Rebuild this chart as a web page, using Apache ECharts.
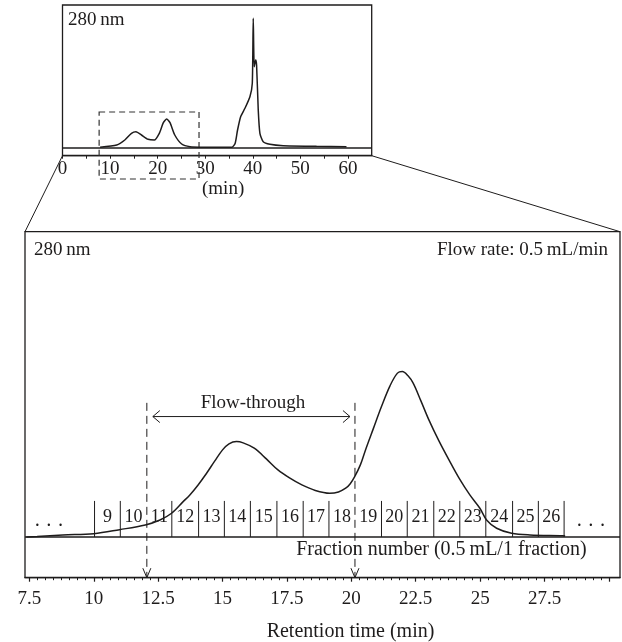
<!DOCTYPE html>
<html><head><meta charset="utf-8">
<script src="https://cdn.jsdelivr.net/npm/echarts@6/dist/echarts.min.js"></script>
<style>html,body{margin:0;padding:0;background:#fff}#c{width:622px;height:642px}</style>
</head><body><div id="c"></div>
<script>
// ---- Data ----
// Expanded chromatogram, retention time (min) vs absorbance at 280 nm (arbitrary units)
const mainTime   = [7.38, 7.8, 8.8, 10.0, 11.0, 12.0, 12.57, 13.02, 13.47, 13.73, 14.05, 14.38, 14.7, 15.0, 15.25, 15.54, 15.8, 16.23, 16.7, 17.15, 17.6, 18.08, 18.6, 19.16, 19.5, 19.78, 19.95, 20.13, 20.35, 20.55, 20.85, 21.17, 21.5, 21.79, 21.98, 22.2, 22.4, 22.7, 23.01, 23.4, 23.79, 24.2, 24.6, 24.99, 25.25, 25.64, 26.22, 26.93, 28.21, 28.3];
const mainSignal = [0, 0.5, 2, 3.3, 7.3, 12, 17, 23.7, 35.3, 42, 52, 63.7, 76, 87, 93, 95.3, 94, 88.7, 78, 67, 59, 52, 46.5, 43.7, 45, 48.7, 53, 60.3, 72, 87, 108, 130.3, 151, 163.7, 165.3, 161, 153.7, 136, 117, 96, 77, 58, 42, 28.7, 17, 8.7, 3.7, 2, 1.3, 1.0];
// Full chromatogram (inset)
const insetTime   = [7.9, 11.4, 13.1, 14.5, 15.45, 16.6, 18.0, 19.3, 20.35, 21.2, 21.9, 22.6, 23.6, 25.05, 26.8, 30, 35.6, 36.3, 36.8, 37.45, 38.35, 39.4, 39.9, 40.1, 40.3, 40.6, 40.8, 41.15, 41.5, 42.2, 43.6, 46.4, 53.4, 59.7];
const insetSignal = [0.5, 2.7, 7.7, 14.4, 16, 12.7, 8.4, 7.7, 14.4, 25, 28.7, 25, 12.7, 3.7, 1, 0.5, 0.4, 4.4, 17.7, 31, 39.4, 51, 64.4, 129.4, 81, 87.7, 82.7, 37.7, 14.4, 6, 3.4, 2, 1.4, 1];
// Fractions (0.5 mL each) and their boundaries on the time axis
const fractionNumbers = [9, 10, 11, 12, 13, 14, 15, 16, 17, 18, 19, 20, 21, 22, 23, 24, 25, 26];
const fractionBounds  = [10.03, 11.03, 12.06, 13.03, 14.07, 15.07, 16.08, 17.11, 18.13, 19.13, 20.14, 21.17, 22.17, 23.2, 24.21, 25.22, 26.26, 27.26, 28.26];
const flowThrough = [12.06, 20.14];
// Tick labels
const mainTickLabels  = [7.5, 10, 12.5, 15, 17.5, 20, 22.5, 25, 27.5];
const mainMajorTicks  = [7.5, 10, 12.5, 15, 17.5, 20, 22.5, 25, 27.5, 30];
const insetTickLabels = [0, 10, 20, 30, 40, 50, 60];
const zoomWindow = [7.7, 28.7];

// ---- Layout / style ----
const INK = '#1e1c1c';
const FONT = '"Liberation Serif", "Times New Roman", serif';
const MAIN = {l: 25, r: 620, t: 231.7, b: 577.7};
const INSET = {l: 62.5, r: 371.7, t: 5, b: 155.7};
const MAIN_YMIN = -40.7, MAIN_YMAX = 305;
const INSET_YMIN = -8, INSET_YMAX = 142.7;
const FRAC_TOP = 36, FRAC_LABEL_Y = 20, DASH_TOP = 134, ARROW_Y = 120.3;

const minorTicks = [];
for (let k = 0; k <= 72; k++) minorTicks.push(+(7.5 + k * 0.3125).toFixed(4));

const chart = echarts.init(document.getElementById('c'), null, {renderer: 'canvas'});

function txt(x, y, text, size, align, vAlign) {
  return {type: 'text', x: x, y: y, silent: true,
    style: {text: text, fill: INK, font: size + 'px ' + FONT, align: align || 'left', verticalAlign: vAlign || 'middle'}};
}

const option = {
  backgroundColor: '#fff',
  animation: false,
  grid: [
    {left: MAIN.l, top: MAIN.t, width: MAIN.r - MAIN.l, height: MAIN.b - MAIN.t, show: true,
     borderColor: INK, borderWidth: 1.3, backgroundColor: 'transparent', containLabel: false, outerBoundsMode: 'none'},
    {left: INSET.l, top: INSET.t, width: INSET.r - INSET.l, height: INSET.b - INSET.t, show: true,
     borderColor: INK, borderWidth: 1.3, backgroundColor: 'transparent', containLabel: false, outerBoundsMode: 'none'}
  ],
  xAxis: [
    {type: 'value', gridIndex: 0, min: 7.33, max: 30.43, position: 'bottom',
     axisLine: {show: true, onZero: false, lineStyle: {color: INK, width: 1.3}},
     axisTick: {show: true, inside: false, length: 4, customValues: mainMajorTicks, lineStyle: {color: INK, width: 1.2}},
     axisLabel: {show: true, customValues: mainTickLabels, margin: 12, color: INK, fontFamily: FONT, fontSize: 19,
                 formatter: v => String(v)},
     splitLine: {show: false},
     name: 'Retention time (min)', nameLocation: 'middle', nameGap: 44,
     nameTextStyle: {color: INK, fontFamily: FONT, fontSize: 20, padding: [0, 0, 0, 56]}},
    {type: 'value', gridIndex: 0, min: 7.33, max: 30.43, position: 'bottom', offset: 0,
     axisLine: {show: false, onZero: false},
     axisTick: {show: true, inside: false, length: 2.5, customValues: minorTicks, lineStyle: {color: INK, width: 1}},
     axisLabel: {show: false}, splitLine: {show: false}},
    {type: 'value', gridIndex: 1, min: 0, max: 65, interval: 5, position: 'bottom',
     axisLine: {show: true, onZero: false, lineStyle: {color: INK, width: 1.3}},
     axisTick: {show: true, inside: false, length: 3, lineStyle: {color: INK, width: 1}},
     axisLabel: {show: true, margin: 4, color: INK, fontFamily: FONT, fontSize: 19,
                 showMinLabel: true, showMaxLabel: false,
                 formatter: v => (insetTickLabels.indexOf(v) >= 0 ? String(v) : '')},
     splitLine: {show: false},
     name: '(min)', nameLocation: 'middle', nameGap: 22,
     nameTextStyle: {color: INK, fontFamily: FONT, fontSize: 19, padding: [0, 0, 0, 12]}}
  ],
  yAxis: [
    {type: 'value', gridIndex: 0, min: MAIN_YMIN, max: MAIN_YMAX, show: false, splitLine: {show: false}},
    {type: 'value', gridIndex: 1, min: INSET_YMIN, max: INSET_YMAX, show: false, splitLine: {show: false}}
  ],
  series: [
    {type: 'line', xAxisIndex: 0, yAxisIndex: 0, data: mainTime.map((t, i) => [t, mainSignal[i]]),
     smooth: 0.35, symbol: 'none', lineStyle: {color: INK, width: 1.5}, silent: true,
     markLine: {silent: true, symbol: 'none', label: {show: false},
                lineStyle: {color: INK, width: 1.5, type: 'solid'}, data: [{yAxis: 0}]}},
    // fraction separators
    {type: 'custom', xAxisIndex: 0, yAxisIndex: 0, silent: true,
     data: fractionBounds.filter(b => flowThrough.indexOf(b) < 0).map(b => [b]),
     encode: {x: 0},
     renderItem: (params, api) => {
       const t = api.value(0);
       const p0 = api.coord([t, 0]), p1 = api.coord([t, FRAC_TOP]);
       return {type: 'line', shape: {x1: p0[0], y1: p0[1], x2: p1[0], y2: p1[1]}, style: {stroke: INK, lineWidth: 1}};
     }},
    // fraction numbers
    {type: 'custom', xAxisIndex: 0, yAxisIndex: 0, silent: true,
     data: fractionNumbers.map((n, i) => [(fractionBounds[i] + fractionBounds[i + 1]) / 2, n]),
     encode: {x: 0},
     renderItem: (params, api) => {
       const p = api.coord([api.value(0), FRAC_LABEL_Y]);
       return txt(p[0], p[1], String(api.value(1)), 18, 'center', 'middle');
     }},
    // flow-through dashed lines with down arrows
    {type: 'custom', xAxisIndex: 0, yAxisIndex: 0, silent: true, clip: false,
     data: flowThrough.map(b => [b]), encode: {x: 0},
     renderItem: (params, api) => {
       const t = api.value(0);
       const top = api.coord([t, DASH_TOP]), tip = api.coord([t, MAIN_YMIN]);
       return {type: 'group', children: [
         {type: 'line', shape: {x1: top[0], y1: top[1], x2: tip[0], y2: tip[1]},
          style: {stroke: INK, lineWidth: 1, lineDash: [8, 5]}},
         {type: 'polyline', shape: {points: [[tip[0] - 4, tip[1] - 9.5], [tip[0], tip[1]], [tip[0] + 4, tip[1] - 9.5]]},
          style: {stroke: INK, lineWidth: 1, fill: null}}
       ]};
     }},
    // flow-through double arrow + label
    {type: 'custom', xAxisIndex: 0, yAxisIndex: 0, silent: true,
     data: [[flowThrough[0], flowThrough[1]]], encode: {x: [0, 1]},
     renderItem: (params, api) => {
       const a = api.coord([api.value(0), ARROW_Y]), b = api.coord([api.value(1), ARROW_Y]);
       const x1 = a[0] + 6, x2 = b[0] - 5, y = a[1];
       const lbl = api.coord([(api.value(0) + api.value(1)) / 2, DASH_TOP]);
       return {type: 'group', children: [
         {type: 'line', shape: {x1: x1, y1: y, x2: x2, y2: y}, style: {stroke: INK, lineWidth: 1}},
         {type: 'polyline', shape: {points: [[x1 + 7, y - 6], [x1, y], [x1 + 7, y + 6]]}, style: {stroke: INK, lineWidth: 1, fill: null}},
         {type: 'polyline', shape: {points: [[x2 - 7, y - 6], [x2, y], [x2 - 7, y + 6]]}, style: {stroke: INK, lineWidth: 1, fill: null}},
         txt(lbl[0] + 2, lbl[1], 'Flow-through', 19, 'center', 'middle')
       ]};
     }},
    // dots and fraction caption
    {type: 'custom', xAxisIndex: 0, yAxisIndex: 0, silent: true, clip: false,
     data: [[8.26, 0], [29.3, 1], [29.14, 2]], encode: {x: 0},
     renderItem: (params, api) => {
       const k = api.value(1);
       if (k === 2) {
         const p = api.coord([api.value(0), -13]);
         return txt(p[0], p[1], 'Fraction number (0.5\u2009mL/1 fraction)', 20, 'right', 'middle');
       }
       const p = api.coord([api.value(0), 10]);
       return txt(p[0], p[1], '\u00b7 \u00b7 \u00b7', 20, 'center', 'middle');
     }},
    // inset chromatogram
    {type: 'line', xAxisIndex: 2, yAxisIndex: 1, data: insetTime.map((t, i) => [t, insetSignal[i]]),
     smooth: 0.2, symbol: 'none', lineStyle: {color: INK, width: 1.5}, silent: true,
     markLine: {silent: true, symbol: 'none', label: {show: false},
                lineStyle: {color: INK, width: 1.5, type: 'solid'}, data: [{yAxis: 0}]}},
    // inset zoom window (dashed)
    {type: 'custom', xAxisIndex: 2, yAxisIndex: 1, silent: true, clip: false,
     data: [zoomWindow], encode: {x: [0, 1]},
     renderItem: (params, api) => {
       const p0 = api.coord([api.value(0), 35.7]), p1 = api.coord([api.value(1), -31.3]);
       return {type: 'rect', shape: {x: p0[0], y: p0[1], width: p1[0] - p0[0], height: p1[1] - p0[1]},
               style: {stroke: '#333', lineWidth: 1.2, lineDash: [6, 4], fill: null}};
     }}
  ],
  graphic: [
    {type: 'line', silent: true, shape: {x1: INSET.l, y1: INSET.b, x2: MAIN.l, y2: MAIN.t}, style: {stroke: INK, lineWidth: 1}},
    {type: 'line', silent: true, shape: {x1: INSET.r, y1: INSET.b, x2: MAIN.r, y2: MAIN.t}, style: {stroke: INK, lineWidth: 1}},
    txt(68, 20, '280\u2009nm', 19, 'left', 'middle'),
    txt(34, 250, '280\u2009nm', 19, 'left', 'middle'),
    txt(608, 250, 'Flow rate: 0.5\u2009mL/min', 19, 'right', 'middle')
  ]
};
chart.setOption(option);
</script>
</body></html>
